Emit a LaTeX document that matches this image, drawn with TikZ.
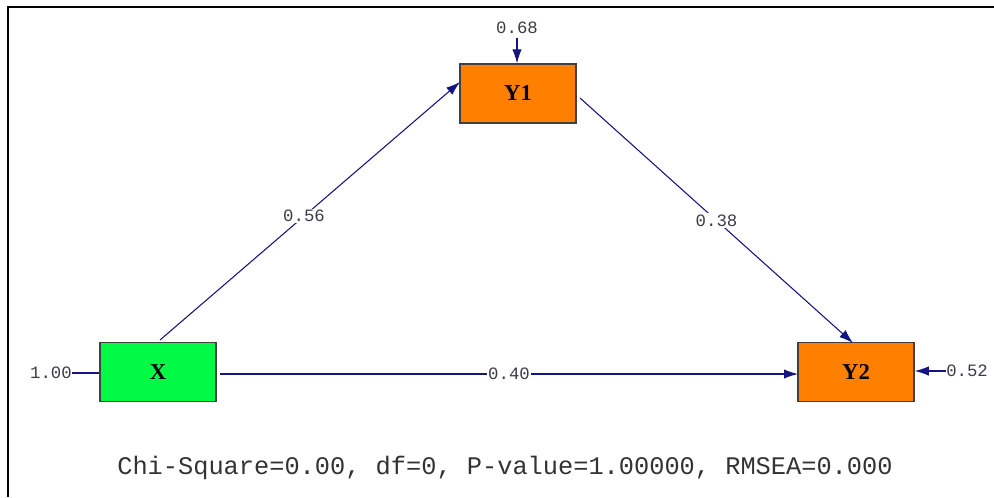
\documentclass[tikz,border=0pt]{standalone}
\usepackage{fontspec}
\setmainfont{Liberation Serif}
\setmonofont{Liberation Mono}
\usetikzlibrary{arrows.meta}
\definecolor{boxorange}{RGB}{255,128,0}
\definecolor{boxgreen}{RGB}{0,250,70}
\definecolor{edgeblue}{RGB}{20,20,130}
\definecolor{labgray}{RGB}{60,60,70}
\begin{document}
\begin{tikzpicture}[x=0.75pt,y=-0.75pt,
  varbox/.style={draw=black!75,line width=1.1pt,minimum width=87pt,minimum height=44pt,inner sep=0pt,font=\bfseries\fontsize{17}{17}\selectfont},
  path/.style={draw=edgeblue,line width=0.8pt,-{Latex[length=10.5pt,width=7pt]}},
  pathnotip/.style={draw=edgeblue,line width=0.8pt},
  coef/.style={fill=white,inner sep=1pt,text=labgray,font=\ttfamily\fontsize{13}{13}\selectfont}]
\useasboundingbox (0,0) rectangle (994,497);
\draw[line width=1.5pt,black] (8,497) -- (8,7) -- (994,7);
\node[varbox,fill=boxorange] (Y1) at (518,93.5) {Y1};
\node[varbox,fill=boxgreen] (X) at (158,372) {X};
\node[varbox,fill=boxorange] (Y2) at (856,372) {Y2};
\coordinate (Xtop) at (160,340);
\coordinate (Y1left) at (460,82);
\coordinate (Y1right) at (580,98);
\coordinate (Y2top) at (853,343);
\coordinate (Xright) at (220,374);
\coordinate (Y2left) at (798,374);
\draw[path] (Xtop) -- node[coef,pos=0.48] {0.56} (Y1left);
\draw[path] (Y1right) -- node[coef,pos=0.5] {0.38} (Y2top);
\draw[path] (Xright) -- node[coef,pos=0.50] {0.40} (Y2left);
\node[coef,anchor=east,inner sep=0pt] (eX) at (72,373) {1.00};
\draw[pathnotip] (eX.east) -- (X.west|-eX.east);
\node[coef,inner sep=0pt] (eY1) at (517,28) {0.68};
\draw[path] (517,38) -- (Y1.north-|517,0);
\node[coef,anchor=west,inner sep=0pt] (eY2) at (946,371) {0.52};
\draw[path] (eY2.west) -- (Y2.east|-eY2.west);
\node[text=black!80,font=\ttfamily\fontsize{19}{19}\selectfont] (fit) at (505,468) {Chi-Square=0.00, df=0, P-value=1.00000, RMSEA=0.000};
\end{tikzpicture}
\end{document}
